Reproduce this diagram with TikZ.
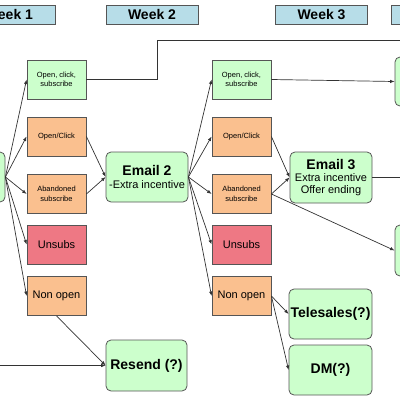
\documentclass[tikz,border=0pt]{standalone}
\usepackage{fontspec}
\setmainfont{Liberation Sans}
\usepackage{xcolor}
\usepackage{tikz}
\usetikzlibrary{arrows.meta}

\definecolor{mailgreen}{RGB}{204,255,204}
\definecolor{resorange}{RGB}{250,192,143}
\definecolor{resred}{RGB}{238,120,132}
\definecolor{weekblue}{RGB}{183,221,232}
\definecolor{edgegrey}{RGB}{85,85,85}

\begin{document}
\begin{tikzpicture}[x=1pt,y=-1pt,
	weekbox/.style={draw=edgegrey,line width=0.8pt,fill=weekblue,minimum width=92pt,minimum height=19pt,inner sep=0pt,font=\fontsize{14}{14}\selectfont\bfseries},
	resbox/.style={draw=edgegrey,line width=0.8pt,minimum width=59pt,minimum height=39pt,inner sep=1pt,align=center,font=\fontsize{7.5}{9.5}\selectfont},
	mailbox/.style={draw=edgegrey,line width=0.8pt,fill=mailgreen,rounded corners=5pt,minimum width=82pt,minimum height=50pt,inner sep=1pt,align=center},
	flow/.style={draw=black!80,line width=0.7pt,-{Latex[length=4.5pt,width=3.5pt]}}]
	\useasboundingbox (0,0) rectangle (400,400);
	\clip (0,0) rectangle (400,400);
%	week headers
	\node (wk1) at(9,14.5)[weekbox]{Week 1};
	\node (wk2) at(152,14.5)[weekbox]{Week 2};
	\node (wk3) at(321.5,14.5)[weekbox]{Week 3};
	\node (wk4) at(437,14.5)[weekbox]{};
%	mails
	\node (email1) at(-36,177)[mailbox]{};
	\node (email2) at(147,177)[mailbox]{{\fontsize{14}{16}\selectfont\bfseries Email 2}\\[1pt]{\fontsize{11}{13}\selectfont -Extra incentive}};
	\node (email3) at(331,177.5)[mailbox,minimum height=51pt]{{\fontsize{14}{16}\selectfont\bfseries Email 3}\\{\fontsize{11}{13}\selectfont Extra incentive}\\{\fontsize{11}{13}\selectfont Offer ending}};
	\node (resend) at(146.5,365.5)[mailbox,minimum width=81pt,minimum height=51pt,font=\fontsize{14}{16}\selectfont\bfseries]{Resend (?)};
	\node (tele) at(330.5,314)[mailbox,minimum width=83pt,font=\fontsize{14}{16}\selectfont\bfseries]{Telesales(?)};
	\node (dm) at(330.5,370)[mailbox,minimum width=83pt,font=\fontsize{14}{16}\selectfont\bfseries]{DM(?)};
	\node (next1) at(436,81.5)[mailbox,minimum height=49pt]{};
	\node (next2) at(436,250.5)[mailbox,minimum height=51pt]{};
%	responses, one column per week
	\foreach \w/\x in {1/56.5,2/241.5}{
		\node (ocs\w) at(\x,79.5)[resbox,fill=mailgreen]{Open, click,\\subscribe};
		\node (oc\w) at(\x,136.5)[resbox,fill=resorange]{Open/Click};
		\node (ab\w) at(\x,194)[resbox,fill=resorange]{Abandoned\\subscribe};
		\node (un\w) at(\x,244.5)[resbox,fill=resred,font=\fontsize{11}{13}\selectfont]{Unsubs};
		\node (no\w) at(\x,296)[resbox,fill=resorange,font=\fontsize{11}{13}\selectfont]{Non open};
	}
	\foreach \r in {ocs,oc,ab,un,no}{
		\draw[flow] (email1.east) -- (\r1.west);
		\draw[flow] (email2.east) -- (\r2.west);
	}
	\draw[flow] (oc1.east) -- (email2.west);
	\draw[flow] (ab1.east) -- (email2.west);
	\draw[flow] (oc2.east) -- (email3.west);
	\draw[flow] (ab2.east) -- (email3.west);
%	lines leaving the picture
	\coordinate (bend) at(157,40.5);
	\coordinate (farright) at(410,40.5);
	\coordinate (farleft) at(-10,365.5);
	\coordinate (e3out) at(410,177.5);
	\draw[draw=black!80,line width=0.7pt] (ocs1.east) -| (bend) -- (farright);
	\draw[flow] (farleft) -- (resend.west);
	\draw[flow] (no1.south) -- (resend.west);
	\draw[flow] (ocs2.east) -- (next1.west);
	\draw[flow] (email3.east) -- (e3out);
	\draw[flow] (ab2.east) -- (next2.west);
	\draw[flow] (no2.east) -- (tele.west);
	\draw[flow] (no2.east) -- (dm.west);
\end{tikzpicture}
\end{document}
